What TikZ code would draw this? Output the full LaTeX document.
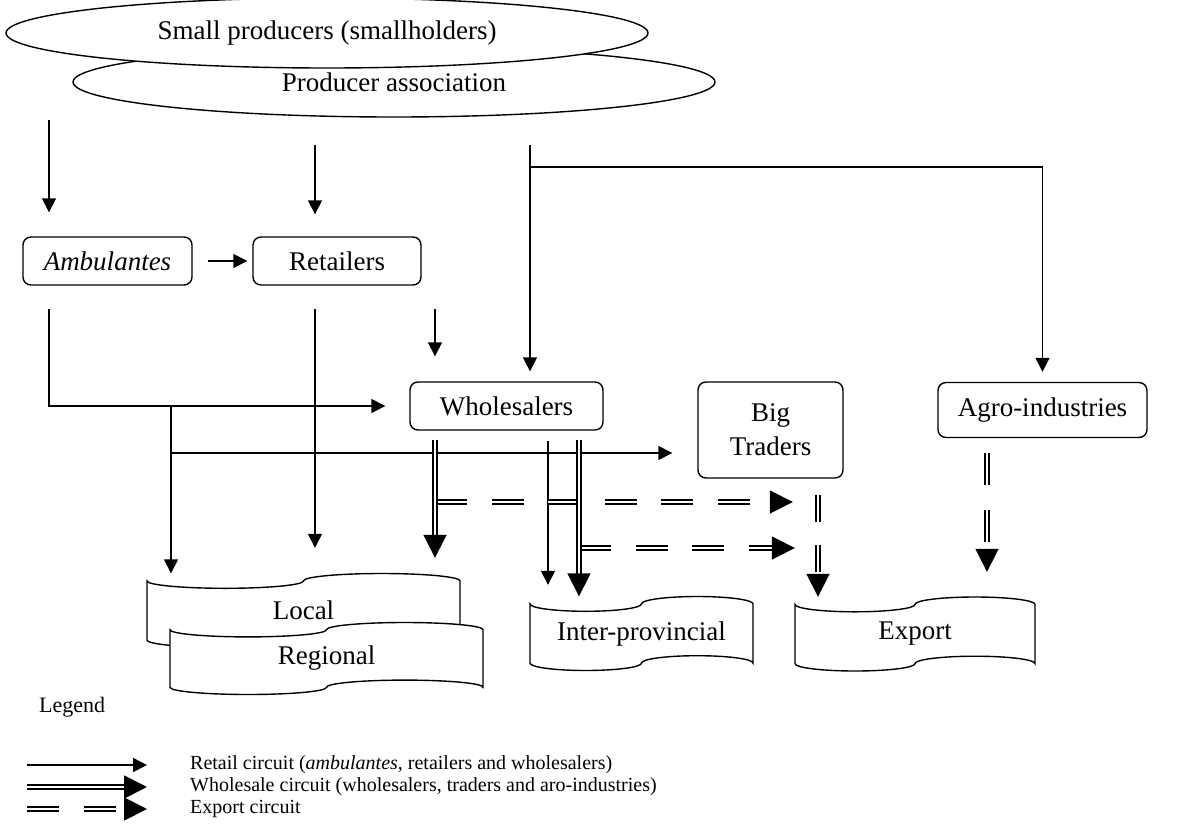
\documentclass[tikz,border=0pt]{standalone}
\usepackage{fontspec}
\setmainfont{Liberation Serif}
\usetikzlibrary{arrows.meta,shapes.geometric,calc}
\newcommand\tapeshape[4]{% cx cy w h (canvas coords, y up)
  \draw[tapeline] ({#1-#3/2},{#2+#4*0.4})
    arc[start angle=180,end angle=360,x radius={#3/4},y radius={#4/10}]
    arc[start angle=180,end angle=0,x radius={#3/4},y radius={#4/10}]
    -- ({#1+#3/2},{#2-#4*0.4})
    arc[start angle=0,end angle=180,x radius={#3/4},y radius={#4/10}]
    arc[start angle=0,end angle=-180,x radius={#3/4},y radius={#4/10}]
    -- cycle;}
\begin{document}
\begin{tikzpicture}[x=1pt,y=1pt,
  font=\fontsize{27}{34}\selectfont,
  box/.style={draw, line width=1.4pt, rounded corners=8pt, inner sep=0pt},
  ell/.style={draw, ellipse, line width=1.4pt, fill=white, minimum width=642pt, minimum height=70pt, inner sep=0pt},
  tapeline/.style={draw, line width=1.4pt, fill=white},
  tapebox/.style={inner sep=0pt},
  retail/.style={line width=1.5pt, -{Triangle[length=14pt,width=14pt]}},
  wholesale/.style={line width=1.8pt, double distance=2.4pt, double=white, -{Triangle[length=23pt,width=23pt]}},
  exportc/.style={wholesale, dash pattern=on 32pt off 24.5pt},
  legtext/.style={anchor=west, inner sep=0pt, font=\fontsize{20}{24}\selectfont},
]
\useasboundingbox (0,0) rectangle (1179,-825);

% producers
\node[ell] (assoc) at (394,-82) {Producer association};
\node[ell] (small) at (327,-33) {Small producers (smallholders)};

% boxes
\node[box, minimum width=169pt, minimum height=48pt] (amb) at (107.5,-261) {\itshape Ambulantes};
\node[box, minimum width=168pt, minimum height=48pt] (ret) at (337,-261) {Retailers};
\node[box, minimum width=193pt, minimum height=48pt] (wsl) at (506.5,-406) {Wholesalers};
\node[box, minimum width=145pt, minimum height=96pt, align=center] (big) at (770.5,-430) {Big\\Traders};
\node[box, minimum width=209pt, minimum height=55pt] (agro) at (1042.5,-410) {Agro-industries};

% markets
\tapeshape{303.5}{-610.5}{313}{74}
\node[tapebox, minimum width=313pt, minimum height=74pt] (loc) at (303.5,-610.5) {Local};
\tapeshape{326.5}{-658.5}{313}{72}
\node[tapebox, minimum width=313pt, minimum height=72pt] (reg) at (326.5,-658.5) {Regional};
\tapeshape{641.5}{-633.5}{223}{74}
\node[tapebox, minimum width=223pt, minimum height=74pt] (ip) at (641.5,-633.5) {Inter-provincial};
\tapeshape{915}{-634}{240}{74}
\node[tapebox, minimum width=240pt, minimum height=74pt] (ex) at (915,-634) {Export};

% coordinates
\coordinate (s1) at (49,-120);
\coordinate (s2) at (315,-145);
\coordinate (s3) at (530,-145);
\coordinate (b3) at (530,-167);
\coordinate (a1) at (49,-309);
\coordinate (j2) at (171,-406);
\coordinate (j3) at (171,-453);
\coordinate (r1) at (315,-309);
\coordinate (r2) at (435,-309);
\coordinate (w1) at (435,-440);
\coordinate (w2) at (548,-441);
\coordinate (w3) at (579,-440);
\coordinate (e1) at (435,-502);
\coordinate (e2) at (579,-548);
\coordinate (bt1) at (818,-495);
\coordinate (ag1) at (987,-453);

% retail circuit
\draw[retail, shorten >=24pt] (s1) -- (s1 |- amb.north);
\draw[retail, shorten >=22pt] (s2) -- (s2 |- ret.north);
\draw[retail, shorten >=10pt] (s3) -- (s3 |- wsl.north);
\draw[retail, shorten >=10pt] (b3) -| (agro.north);
\draw[retail] ([xshift=15pt]amb.east) -- ([xshift=-5pt]ret.west);
\draw[retail, shorten >=24pt] (a1) |- (wsl.west);
\draw[retail] (j2) -- (j2 |- loc.north);
\draw[retail, shorten >=25pt] (j3) -- (j3 -| big.west);
\draw[retail, shorten >=25.5pt] (r1) -- (r1 |- loc.north);
\draw[retail, shorten >=25pt] (r2) -- (r2 |- wsl.north);
\draw[retail, shorten >=11.5pt] (w2) -- (w2 |- ip.north);

% export circuit
\draw[exportc, shorten >=2pt] (e1) -- (e1 -| ex.west);
\draw[exportc] (e2) -- (e2 -| ex.west);
\draw[exportc, dash pattern=on 27pt off 23pt] (bt1) -- (bt1 |- ex.north);
\draw[exportc, shorten >=25pt] (ag1) -- (ag1 |- ex.north);

% wholesale circuit
\draw[wholesale, shorten >=15.5pt] (w1) -- (w1 |- loc.north);
\draw[wholesale] (w3) -- (w3 |- ip.north);

% legend
\node[anchor=west, inner sep=0pt, font=\fontsize{22}{26}\selectfont] (leg) at (39,-707) {Legend};
\coordinate (l1a) at (27,-765); \coordinate (l1b) at (147,-765);
\coordinate (l2a) at (27,-787); \coordinate (l2b) at (147,-787);
\coordinate (l3a) at (27,-809); \coordinate (l3b) at (147,-809);
\draw[retail] (l1a) -- (l1b);
\draw[wholesale] (l2a) -- (l2b);
\draw[exportc] (l3a) -- (l3b);
\node[legtext] (lt1) at (190,-765) {Retail circuit (\textit{ambulantes}, retailers and wholesalers)};
\node[legtext] (lt2) at (190,-787) {Wholesale circuit (wholesalers, traders and aro-industries)};
\node[legtext] (lt3) at (190,-809) {Export circuit};
\end{tikzpicture}
\end{document}
